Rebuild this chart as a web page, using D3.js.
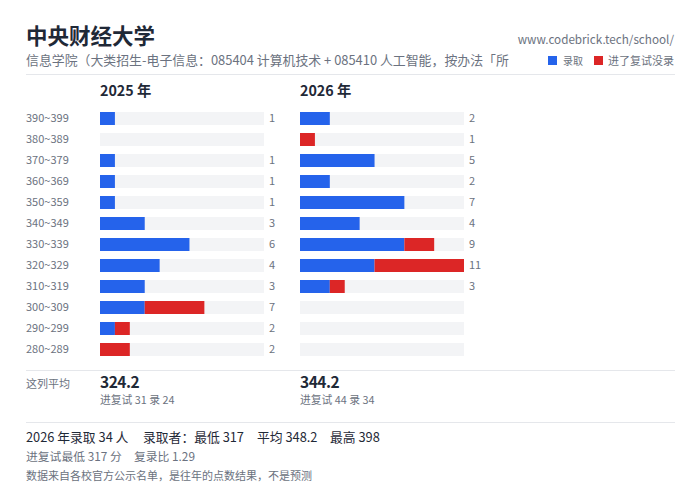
<!DOCTYPE html>
<html lang="zh-CN">
<head>
  <meta charset="UTF-8" />
  <title>中央财经大学</title>
  <style>
    html, body { margin: 0; padding: 0; background: #fff; }
    svg { display: block; }
    text { font-family: "Noto Sans CJK SC", "Noto Sans", sans-serif; }
  </style>
  <script src="https://cdn.jsdelivr.net/npm/d3@7/dist/d3.min.js"></script>
</head>
<body>
  <svg width="700" height="504"></svg>
  <script>
    const bands = ["390~399", "380~389", "370~379", "360~369", "350~359", "340~349", "330~339", "320~329", "310~319", "300~309", "290~299", "280~289"];
    const years = ["2025 年", "2026 年"];
    const admitted = [
      [1, 0, 1, 1, 1, 3, 6, 4, 3, 3, 1, 0],
      [2, 0, 5, 2, 7, 4, 7, 5, 2, 0, 0, 0]
    ];
    const notAdmitted = [
      [0, 0, 0, 0, 0, 0, 0, 0, 0, 4, 1, 2],
      [0, 1, 0, 0, 0, 0, 2, 6, 1, 0, 0, 0]
    ];
    const averages = ["324.2", "344.2"];
    const counts = ["进复试 31 录 24", "进复试 44 录 34"];
    const colLeft = [100, 300];

    const BLUE = "#2563eb", RED = "#dc2626", TRACK = "#f3f4f6", RULE = "#e5e7eb";
    const DARK = "#1f2937", GREY = "#6b7280";

    const svg = d3.select("svg");

    function label(x, y, str, size, fill, opts = {}) {
      return svg.append("text")
        .attr("x", x).attr("y", y)
        .attr("font-size", size)
        .attr("fill", fill)
        .attr("font-weight", opts.weight || 400)
        .attr("text-anchor", opts.anchor || "start")
        .attr("letter-spacing", opts.spacing || null)
        .text(str);
    }
    function rule(y) {
      svg.append("line").attr("x1", 26).attr("x2", 675).attr("y1", y + 0.5).attr("y2", y + 0.5)
        .attr("stroke", RULE).attr("stroke-width", 1);
    }

    // header
    label(26, 44, "中央财经大学", 21.5, DARK, { weight: 700 });
    label(26, 65, "信息学院（大类招生-电子信息：085404 计算机技术 + 085410 人工智能，按办法「所", 12.9, GREY);
    label(674, 44, "www.codebrick.tech/school/", 11.7, GREY, { anchor: "end" });
    rule(74);

    // legend
    svg.append("rect").attr("x", 548).attr("y", 56).attr("width", 9).attr("height", 9).attr("fill", BLUE);
    label(563, 65, "录取", 10, GREY);
    svg.append("rect").attr("x", 594).attr("y", 56).attr("width", 9).attr("height", 9).attr("fill", RED);
    label(608, 65, "进了复试没录", 11, GREY);

    // 13px bars on a 21px step
    const y = d3.scaleBand().domain(bands).range([112, 356]).paddingInner(8 / 21).paddingOuter(0);

    bands.forEach(b => {
      label(26, y(b) + 10, b, 11, GREY);
    });

    years.forEach((yr, c) => {
      const left = colLeft[c];
      const x = d3.scaleLinear().domain([0, 11]).range([left, left + 164]);
      label(left, 96, yr, 14.3, DARK, { weight: 700 });

      const rows = svg.append("g").selectAll("g").data(bands).join("g");
      rows.append("rect")
        .attr("x", x(0)).attr("y", d => y(d))
        .attr("width", x(11) - x(0)).attr("height", y.bandwidth())
        .attr("fill", TRACK);
      rows.append("rect")
        .attr("x", x(0)).attr("y", d => y(d))
        .attr("width", (d, i) => x(admitted[c][i]) - x(0)).attr("height", y.bandwidth())
        .attr("fill", BLUE);
      rows.append("rect")
        .attr("x", (d, i) => x(admitted[c][i])).attr("y", d => y(d))
        .attr("width", (d, i) => x(admitted[c][i] + notAdmitted[c][i]) - x(admitted[c][i])).attr("height", y.bandwidth())
        .attr("fill", RED);
      rows.filter((d, i) => admitted[c][i] + notAdmitted[c][i] > 0)
        .append("text")
        .attr("x", x(11) + 5).attr("y", d => y(d) + 10)
        .attr("font-size", 11).attr("fill", GREY)
        .text(d => { const i = bands.indexOf(d); return admitted[c][i] + notAdmitted[c][i]; });

      label(left, 388, averages[c], 15.5, DARK, { weight: 700, spacing: -0.5 });
      label(left, 404, counts[c], 10.8, GREY);
    });

    // summary
    rule(370);
    label(26, 388, "这列平均", 11, GREY);
    rule(422);
    label(26, 442, "2026 年录取 34 人", 12.8, DARK);
    label(143, 442, "录取者：最低 317", 12.8, DARK);
    label(257, 442, "平均 348.2", 12.8, DARK);
    label(330, 442, "最高 398", 12.8, DARK);
    label(26, 461, "进复试最低 317 分", 11.8, GREY);
    label(134, 461, "复录比 1.29", 11.8, GREY);
    label(26, 480, "数据来自各校官方公示名单，是往年的点数结果，不是预测", 11, GREY);
  </script>
</body>
</html>
